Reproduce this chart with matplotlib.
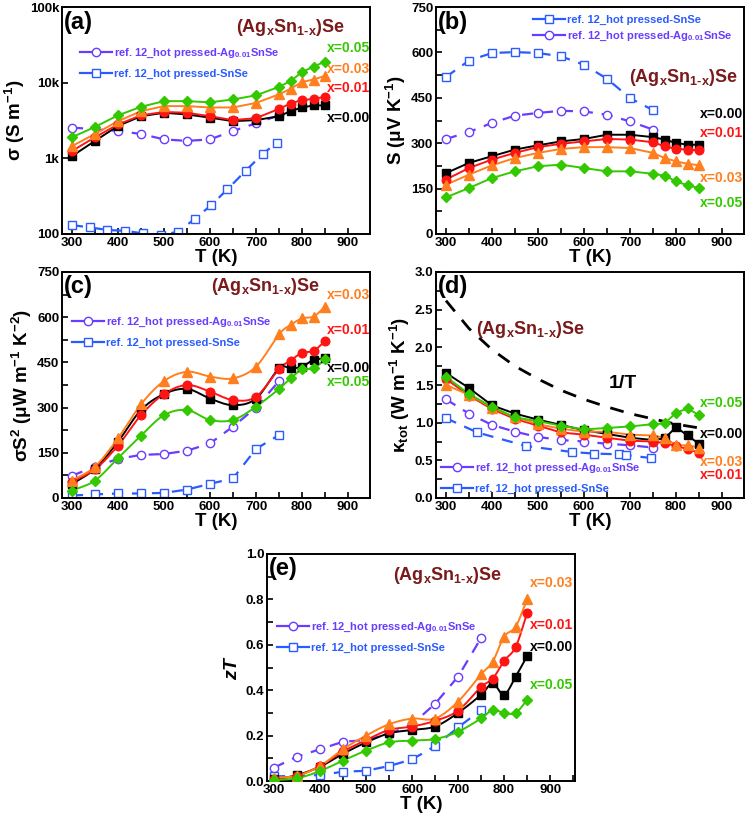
import numpy as np
import matplotlib
matplotlib.use("Agg")
import matplotlib.pyplot as plt
from matplotlib.ticker import MultipleLocator, FixedLocator, NullLocator, FormatStrFormatter
from matplotlib.lines import Line2D

plt.rcParams['font.family'] = ['Liberation Sans', 'DejaVu Sans']
plt.rcParams['font.weight'] = 'bold'
plt.rcParams['mathtext.fontset'] = 'custom'
plt.rcParams['mathtext.rm'] = 'Liberation Sans:bold'
plt.rcParams['mathtext.it'] = 'Liberation Sans:bold:italic'
plt.rcParams['mathtext.bf'] = 'Liberation Sans:bold'
plt.rcParams['mathtext.default'] = 'rm'

# ---------------- data ----------------
T = [300, 350, 400, 450, 500, 550, 600, 650, 700, 750, 775, 800, 825, 850]
samples = ['x=0.00', 'x=0.01', 'x=0.03', 'x=0.05']

# (a) electrical conductivity, S/m
sigma_000 = [1070, 1700, 2680, 3600, 4000, 3800, 3450, 3100, 3200, 3600, 4200, 4700, 5000, 5000]
sigma_001 = [1250, 1900, 2800, 3700, 4100, 4000, 3600, 3200, 3400, 4500, 5300, 5900, 6100, 6500]
sigma_003 = [1450, 2100, 3100, 4200, 4900, 4900, 4700, 4700, 5400, 7000, 8300, 10200, 11000, 12300]
sigma_005 = [1900, 2600, 3700, 4800, 5700, 5700, 5500, 6000, 6800, 8800, 10500, 13800, 16300, 19000]
ref_ag_T_a = [300, 400, 450, 500, 550, 600, 650, 700, 750]
ref_ag_sigma = [2550, 2300, 2100, 1780, 1700, 1780, 2300, 2900, 3700]
ref_sn_T_a = [300, 340, 377, 416, 454, 494, 530, 567, 603, 638, 678, 715, 745]
ref_sn_sigma = [131, 122, 113, 110, 102, 97, 107, 158, 242, 390, 690, 1150, 1600]

# (b) Seebeck coefficient, uV/K
S_000 = [201, 235, 257, 279, 293, 306, 314, 328, 328, 320, 312, 301, 295, 295]
S_001 = [180, 218, 246, 268, 287, 298, 306, 314, 312, 303, 290, 281, 279, 276]
S_003 = [163, 196, 227, 251, 268, 281, 287, 287, 284, 268, 251, 240, 232, 227]
S_005 = [121, 152, 185, 207, 224, 229, 218, 207, 207, 199, 193, 174, 161, 152]
ref_T_b = [300, 350, 400, 450, 500, 550, 600, 650, 700, 750]
ref_sn_S = [519, 573, 598, 601, 598, 587, 559, 513, 449, 409]
ref_ag_S = [314, 337, 367, 391, 400, 407, 405, 394, 372, 345]

# (c) power factor, uW m^-1 K^-2
PF_000 = [46, 97, 187, 292, 345, 362, 330, 308, 330, 430, 430, 436, 458, 463]
PF_001 = [54, 95, 174, 275, 345, 375, 353, 325, 336, 428, 456, 482, 488, 521]
PF_003 = [58, 104, 198, 311, 388, 419, 403, 397, 436, 543, 574, 596, 602, 635]
PF_005 = [24, 58, 132, 207, 275, 292, 259, 259, 303, 362, 397, 427, 430, 460]
ref_T_c = [300, 350, 400, 450, 500, 550, 600, 650, 700, 750]
ref_ag_PF = [74, 104, 130, 143, 146, 157, 181, 237, 300, 388]
ref_sn_PF = [8, 12, 15, 15, 17, 28, 47, 65, 163, 209]

# (d) total thermal conductivity, W m^-1 K^-1
k_000 = [1.66, 1.46, 1.23, 1.12, 1.04, 0.97, 0.90, 0.85, 0.80, 0.77, 0.79, 0.94, 0.83, 0.72]
k_001 = [1.58, 1.36, 1.18, 1.05, 0.96, 0.87, 0.84, 0.80, 0.76, 0.75, 0.73, 0.69, 0.65, 0.60]
k_003 = [1.50, 1.37, 1.20, 1.07, 0.98, 0.92, 0.88, 0.88, 0.84, 0.83, 0.80, 0.70, 0.70, 0.67]
k_005 = [1.61, 1.38, 1.21, 1.07, 1.02, 0.96, 0.91, 0.93, 0.95, 0.98, 0.99, 1.13, 1.19, 1.10]
ref_ag_T_d = [300, 350, 400, 450, 500, 550, 600, 650, 700, 750]
ref_ag_k = [1.31, 1.12, 0.97, 0.88, 0.81, 0.77, 0.75, 0.72, 0.70, 0.67]
ref_sn_T_d = [300, 368, 474, 575, 621, 676, 691, 746]
ref_sn_k = [1.06, 0.87, 0.69, 0.61, 0.59, 0.58, 0.57, 0.53]
invT_T = [300, 350, 400, 450, 500, 550, 600, 650, 700, 750, 800, 850]
invT_k = [2.62, 2.25, 1.97, 1.75, 1.58, 1.43, 1.31, 1.21, 1.12, 1.05, 0.98, 0.93]

# (e) figure of merit zT
zT_000 = [0.007, 0.026, 0.063, 0.12, 0.17, 0.21, 0.225, 0.24, 0.30, 0.38, 0.43, 0.38, 0.46, 0.55]
zT_001 = [0.010, 0.023, 0.066, 0.13, 0.18, 0.225, 0.24, 0.265, 0.31, 0.415, 0.45, 0.53, 0.59, 0.74]
zT_003 = [0.015, 0.023, 0.066, 0.14, 0.20, 0.25, 0.275, 0.275, 0.35, 0.47, 0.525, 0.636, 0.68, 0.80]
zT_005 = [0.004, 0.012, 0.044, 0.09, 0.134, 0.17, 0.178, 0.185, 0.217, 0.276, 0.313, 0.30, 0.30, 0.357]
ref_T_e = [300, 350, 400, 450, 500, 550, 600, 650, 700, 750]
ref_ag_zT = [0.059, 0.107, 0.14, 0.173, 0.18, 0.207, 0.25, 0.34, 0.46, 0.63]
ref_sn_T_e = [300, 400, 450, 500, 550, 600, 650, 700, 750]
ref_sn_zT = [0.02, 0.026, 0.041, 0.045, 0.066, 0.095, 0.154, 0.236, 0.313]

# ---------------- styles ----------------
COL = {'x=0.00': '#000000', 'x=0.01': '#FF1414', 'x=0.03': '#FF7F1E', 'x=0.05': '#33C800'}
MRK = {'x=0.00': 's', 'x=0.01': 'o', 'x=0.03': '^', 'x=0.05': 'D'}
MS = {'x=0.00': 5.8, 'x=0.01': 6.2, 'x=0.03': 6.8, 'x=0.05': 5.6}
C_AG = '#6A3CFF'
C_SN = '#2A5BFF'
MAROON = '#7A1A1A'
LBL_AG = r'ref. 12_hot pressed-Ag$_{0.01}$SnSe'
LBL_SN = 'ref. 12_hot pressed-SnSe'
TITLE = r'(Ag$_{x}$Sn$_{1\text{-}x}$)Se'

W, H = 747, 818
fig = plt.figure(figsize=(W / 100, H / 100), dpi=100)


def add_ax(l, r, t, b):
    return fig.add_axes([l / W, 1 - b / H, (r - l) / W, (b - t) / H])


def ftext(x, y, s, **kw):
    fig.text(x / W, 1 - y / H, s, **kw)


def smooth(x, y, n=12):
    x = np.asarray(x, float)
    y = np.asarray(y, float)
    px = np.concatenate([[2 * x[0] - x[1]], x, [2 * x[-1] - x[-2]]])
    py = np.concatenate([[2 * y[0] - y[1]], y, [2 * y[-1] - y[-2]]])
    xs, ys = [], []
    t = np.linspace(0, 1, n, endpoint=False)
    for i in range(1, len(px) - 2):
        p0, p1, p2, p3 = px[i - 1], px[i], px[i + 1], px[i + 2]
        q0, q1, q2, q3 = py[i - 1], py[i], py[i + 1], py[i + 2]
        def cr(a0, a1, a2, a3):
            return 0.5 * ((2 * a1) + (-a0 + a2) * t + (2 * a0 - 5 * a1 + 4 * a2 - a3) * t ** 2
                          + (-a0 + 3 * a1 - 3 * a2 + a3) * t ** 3)
        xs.append(cr(p0, p1, p2, p3))
        ys.append(cr(q0, q1, q2, q3))
    xs.append([x[-1]])
    ys.append([y[-1]])
    return np.concatenate(xs), np.concatenate(ys)


def style_ax(ax, xlim, ylim, major, minor, log=False):
    ax.set_xlim(*xlim)
    ax.set_ylim(*ylim)
    ax.xaxis.set_major_locator(FixedLocator([300, 400, 500, 600, 700, 800, 900]))
    ax.xaxis.set_minor_locator(MultipleLocator(50))
    if not log:
        ax.yaxis.set_major_locator(MultipleLocator(major))
        ax.yaxis.set_minor_locator(MultipleLocator(minor))
    ax.tick_params(which='both', direction='in', top=False, right=False, width=1.2,
                   labelsize=9.5, pad=2)
    ax.tick_params(which='major', length=4)
    ax.tick_params(which='minor', length=4)
    for sp in ax.spines.values():
        sp.set_linewidth(1.4)
    for lab in ax.get_xticklabels() + ax.get_yticklabels():
        lab.set_fontweight('bold')
    ax.set_xlabel('T (K)', fontsize=13.5, fontweight='bold', labelpad=0)


def plot_series(ax, ys_list, smooth_lines=False):
    for s, ys in zip(samples, ys_list):
        if smooth_lines:
            sx, sy = smooth(T, ys)
            ax.plot(sx, sy, '-', color=COL[s], lw=1.4, zorder=3)
        else:
            ax.plot(T, ys, '-', color=COL[s], lw=1.4, zorder=3)
        ax.plot(T, ys, MRK[s], color=COL[s], ms=MS[s], mec=COL[s], zorder=4)


def plot_ref(ax, tx, ty, color, marker):
    ax.plot(tx, ty, linestyle=(0, (5, 4)), color=color, lw=1.6, marker=marker, ms=6,
            mfc='white', mec=color, mew=1.0, zorder=2)


def add_legend(ax, order, xpx, ypx, spacing):
    handles, labels, colors = [], [], []
    for kind in order:
        if kind == 'ag':
            handles.append(Line2D([], [], linestyle='-', color=C_AG, lw=1.6, marker='o',
                                  ms=6, mfc='white', mec=C_AG))
            labels.append(LBL_AG)
            colors.append(C_AG)
        else:
            handles.append(Line2D([], [], linestyle='-', color=C_SN, lw=1.6, marker='s',
                                  ms=6, mfc='white', mec=C_SN))
            labels.append(LBL_SN)
            colors.append(C_SN)
    leg = ax.legend(handles, labels, loc='upper left', bbox_to_anchor=(xpx / W, 1 - ypx / H),
                    bbox_transform=fig.transFigure, frameon=False,
                    handlelength=2.9, handletextpad=0.15, borderpad=0, borderaxespad=0,
                    labelspacing=spacing, labelcolor=colors, prop={'weight': 'bold', 'size': 8})
    return leg


def xlabels(items, x):
    for s, y in items:
        ftext(x, y, s, color=COL[s], fontsize=10, fontweight='bold', va='center', ha='left')


YL = dict(fontsize=13.5, fontweight='bold', labelpad=2)

# ---------------- (a) ----------------
axa = add_ax(62, 370, 7, 234)
axa.set_yscale('log')
style_ax(axa, (278.3, 947.8), (100, 100000), None, None, log=True)
axa.yaxis.set_major_locator(FixedLocator([100, 1000, 10000, 100000]))
axa.yaxis.set_minor_locator(NullLocator())
axa.set_yticklabels(['100', '1k', '10k', '100k'], fontweight='bold')
plot_ref(axa, ref_ag_T_a, ref_ag_sigma, C_AG, 'o')
plot_ref(axa, ref_sn_T_a, ref_sn_sigma, C_SN, 's')
plot_series(axa, [sigma_000, sigma_001, sigma_003, sigma_005])
axa.set_ylabel(r'$\sigma$ (S m$^{-1}$)', **YL)
add_legend(axa, ['ag', 'sn'], 80, 47, 0.75)
ftext(64, 22, '(a)', fontsize=17, fontweight='bold', va='center')
ftext(290, 28, TITLE, fontsize=13, fontweight='bold', color=MAROON, va='center', ha='center')
xlabels([('x=0.05', 48), ('x=0.03', 69), ('x=0.01', 88), ('x=0.00', 118)], 327)

# ---------------- (b) ----------------
axb = add_ax(436, 744, 7, 234)
style_ax(axb, (278.3, 947.8), (0, 750), 150, 75)
plot_ref(axb, ref_T_b, ref_sn_S, C_SN, 's')
plot_ref(axb, ref_T_b, ref_ag_S, C_AG, 'o')
plot_series(axb, [S_000, S_001, S_003, S_005])
axb.set_ylabel(r'S ($\mu$V K$^{-1}$)', **YL)
add_legend(axb, ['sn', 'ag'], 533, 15, 0.45)
ftext(438, 22, '(b)', fontsize=17, fontweight='bold', va='center')
ftext(683, 78, TITLE, fontsize=13, fontweight='bold', color=MAROON, va='center', ha='center')
xlabels([('x=0.00', 114), ('x=0.01', 133), ('x=0.03', 178), ('x=0.05', 203)], 700)

# ---------------- (c) ----------------
axc = add_ax(62, 370, 272, 498)
style_ax(axc, (278.3, 947.8), (0, 750), 150, 75)
plot_ref(axc, ref_T_c, ref_ag_PF, C_AG, 'o')
plot_ref(axc, ref_T_c, ref_sn_PF, C_SN, 's')
plot_series(axc, [PF_000, PF_001, PF_003, PF_005], smooth_lines=True)
axc.set_ylabel(r'$\sigma$S$^2$ ($\mu$W m$^{-1}$ K$^{-2}$)', **YL)
add_legend(axc, ['ag', 'sn'], 72, 316, 0.75)
ftext(64, 287, '(c)', fontsize=17, fontweight='bold', va='center')
ftext(265, 287, TITLE, fontsize=13, fontweight='bold', color=MAROON, va='center', ha='center')
xlabels([('x=0.03', 295), ('x=0.01', 330), ('x=0.00', 368), ('x=0.05', 382)], 327)

# ---------------- (d) ----------------
axd = add_ax(436, 744, 272, 498)
style_ax(axd, (278.3, 947.8), (0, 3.0), 0.5, 0.25)
axd.yaxis.set_major_formatter(FormatStrFormatter('%.1f'))
axd.plot(invT_T, invT_k, linestyle=(0, (5, 4)), color='black', lw=2.0, zorder=2)
plot_ref(axd, ref_ag_T_d, ref_ag_k, C_AG, 'o')
plot_ref(axd, ref_sn_T_d, ref_sn_k, C_SN, 's')
plot_series(axd, [k_000, k_001, k_003, k_005])
axd.set_ylabel(r'$\kappa_{tot}$ (W m$^{-1}$ K$^{-1}$)', **YL)
add_legend(axd, ['ag', 'sn'], 441, 462, 0.75)
ftext(438, 287, '(d)', fontsize=17, fontweight='bold', va='center')
ftext(530, 330, TITLE, fontsize=13, fontweight='bold', color=MAROON, va='center', ha='center')
ftext(623, 383, '1/T', fontsize=14, fontweight='bold', va='center', ha='center')
xlabels([('x=0.05', 403), ('x=0.00', 434), ('x=0.03', 462), ('x=0.01', 475)], 700)

# ---------------- (e) ----------------
axe = add_ax(267, 575, 554, 781)
style_ax(axe, (284.8, 954.0), (0, 1.0), 0.2, 0.1)
axe.yaxis.set_major_formatter(FormatStrFormatter('%.1f'))
plot_ref(axe, ref_T_e, ref_ag_zT, C_AG, 'o')
plot_ref(axe, ref_sn_T_e, ref_sn_zT, C_SN, 's')
plot_series(axe, [zT_000, zT_001, zT_003, zT_005], smooth_lines=True)
axe.set_ylabel(r'$\mathit{zT}$', fontsize=14, fontweight='bold', labelpad=3)
add_legend(axe, ['ag', 'sn'], 277, 621, 0.75)
ftext(269, 569, '(e)', fontsize=17, fontweight='bold', va='center')
ftext(447, 575, TITLE, fontsize=13, fontweight='bold', color=MAROON, va='center', ha='center')
xlabels([('x=0.03', 583), ('x=0.01', 625), ('x=0.00', 647), ('x=0.05', 685)], 530)

fig.savefig('out.png', dpi=100)
